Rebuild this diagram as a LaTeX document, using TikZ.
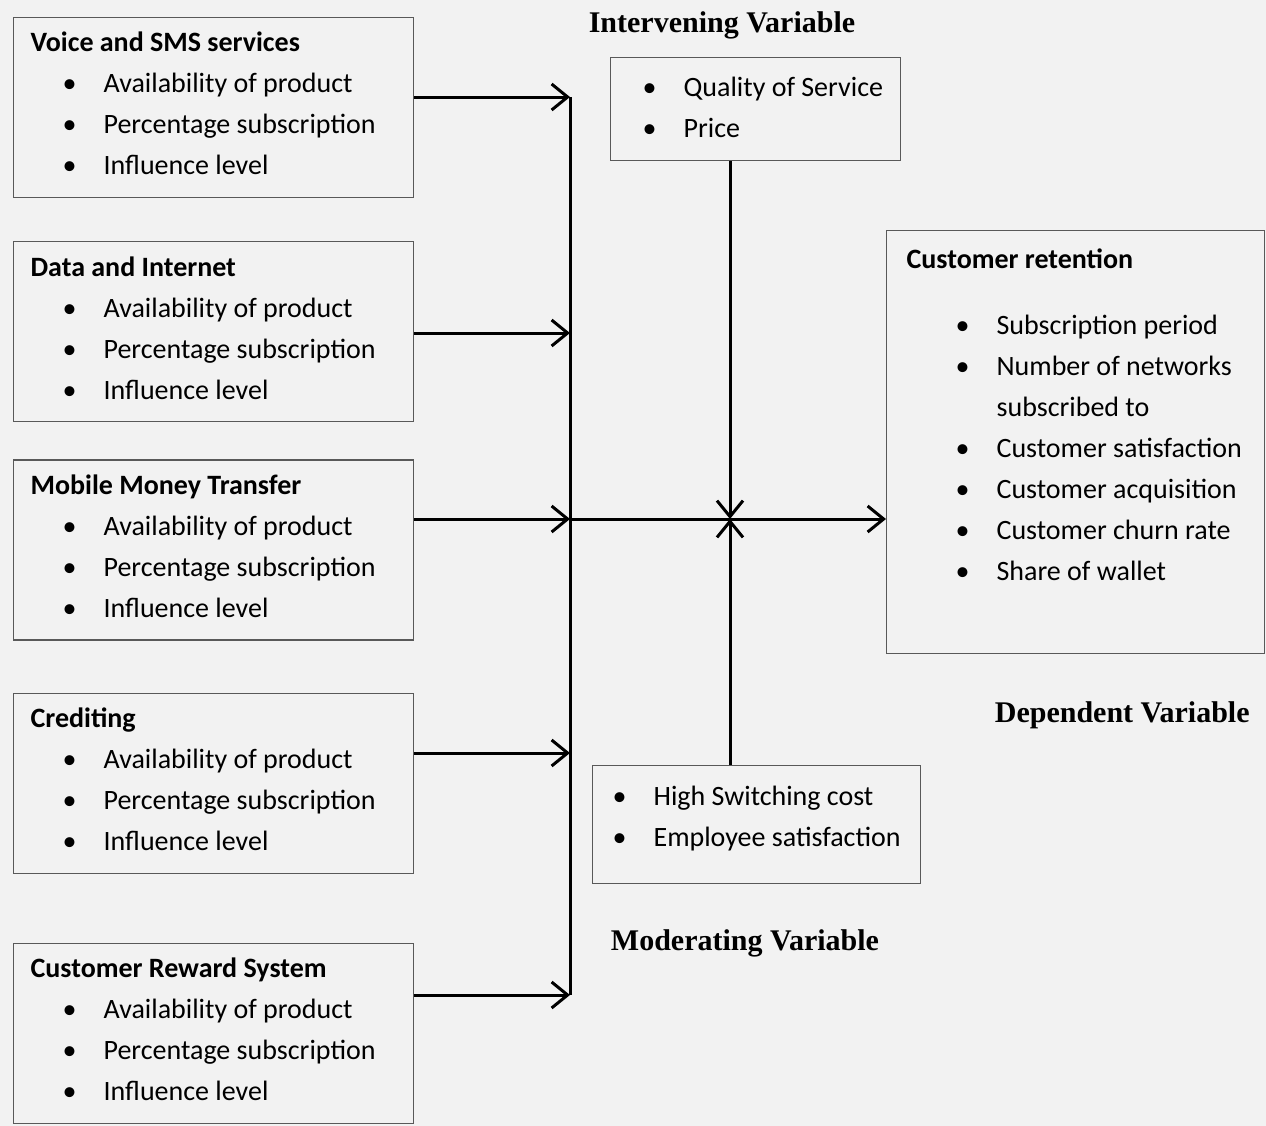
\documentclass[tikz,border=0pt]{standalone}
\usepackage{fontspec}
\newfontfamily\calfont{Carlito}
\newfontfamily\headfont{Liberation Serif}
\usepackage{tikz}
\usetikzlibrary{arrows.meta,positioning}
\setlength\parindent{0pt}

% bullet line: optional indent before the dot
\newcommand\bitem[2][16pt]{\hspace*{#1}\makebox[20.5pt][l]{\textbullet}\mbox{#2}}
% empty last line, pushes the text of a box up a little
\newcommand\lift[1]{\\[#1]\mbox{}}

\begin{document}
\begin{tikzpicture}[x=0.5pt, y=-0.5pt,
  box/.style={draw=black!65, line width=0.6pt, inner xsep=8.5pt, inner ysep=0pt,
    align=left, font=\fontsize{14}{20.5}\calfont,
    execute at begin node={\spaceskip=0pt\relax\xspaceskip=0pt\relax\hyphenpenalty=10000\relax}},
  factor/.style={box, anchor=north west, text width=183pt, minimum height=90pt},
  vartitle/.style={inner sep=0pt, font=\fontsize{15}{18}\headfont\bfseries},
  bus/.style={line width=1.5pt},
  link/.style={bus, -{Straight Barb[length=8pt,width=13pt,line width=1.5pt]}}]
\useasboundingbox (0,0) rectangle (1266,1126);
\fill[black!5] (0,0) rectangle (1266,1126);

% independent variables
\node[factor] (voice) at (13,17) {\textbf{Voice and SMS services}\\
  \bitem{Availability of product}\\ \bitem{Percentage subscription}\\ \bitem{Influence level}\lift{-16.5pt}};
\node[factor, below=21.5pt of voice] (data) {\textbf{Data and Internet}\\
  \bitem{Availability of product}\\ \bitem{Percentage subscription}\\ \bitem{Influence level}\lift{-16.5pt}};
\node[factor, below=18.5pt of data] (mobile) {\textbf{Mobile Money Transfer}\\
  \bitem{Availability of product}\\ \bitem{Percentage subscription}\\ \bitem{Influence level}\lift{-16.5pt}};
\node[factor, below=26pt of mobile] (cred) {\textbf{Crediting}\\
  \bitem{Availability of product}\\ \bitem{Percentage subscription}\\ \bitem{Influence level}\lift{-16.5pt}};
\node[factor, below=34.5pt of cred] (reward) {\textbf{Customer Reward System}\\
  \bitem{Availability of product}\\ \bitem{Percentage subscription}\\ \bitem{Influence level}\lift{-16.5pt}};

% intervening / moderating / dependent
\node[box, anchor=north west, text width=128pt, minimum height=51.5pt] (inter) at (610,57)
  {\bitem[7.5pt]{Quality of Service}\\ \bitem[7.5pt]{Price}\lift{-18.5pt}};
\node[box, anchor=north west, text width=147pt, minimum height=59pt] (mod) at (592,765)
  {\bitem[1.5pt]{High Switching cost}\\ \bitem[1.5pt]{Employee satisfaction}\lift{-12pt}};
\node[box, anchor=north west, inner xsep=10pt, text width=169pt, minimum height=211.5pt] (ret) at (886,230)
  {\textbf{Customer retention}\\[12.5pt]
   \bitem[24.5pt]{Subscription period}\\
   \bitem[24.5pt]{Number of networks}\\
   \hspace*{45pt}subscribed to\\
   \bitem[24.5pt]{Customer satisfaction}\\
   \bitem[24.5pt]{Customer acquisition}\\
   \bitem[24.5pt]{Customer churn rate}\\
   \bitem[24.5pt]{Share of wallet}\lift{6.5pt}};

\node[vartitle] (intertitle) at (722,25) {Intervening Variable};
\node[vartitle] (modtitle) at (745,943) {Moderating Variable};
\node[vartitle, anchor=east] (deptitle) at (1250,715) {Dependent Variable};

% connectors
\coordinate (in1) at (570,97);
\coordinate (in2) at (570,333);
\coordinate (in3) at (570,519);
\coordinate (in4) at (570,753);
\coordinate (in5) at (570,995);
\coordinate (hub) at (730,519);

\draw[bus] (in1) -- (in5);
\draw[link] (voice.east |- in1) -- (in1);
\draw[link] (data.east |- in2) -- (in2);
\draw[link] (mobile.east |- in3) -- (in3);
\draw[link] (cred.east |- in4) -- (in4);
\draw[link] (reward.east |- in5) -- (in5);
\draw[link] (in3) -- (ret.west |- in3);
\draw[link] (inter.south -| hub) -- (hub);
\draw[link] (mod.north -| hub) -- (hub);
\end{tikzpicture}
\end{document}
